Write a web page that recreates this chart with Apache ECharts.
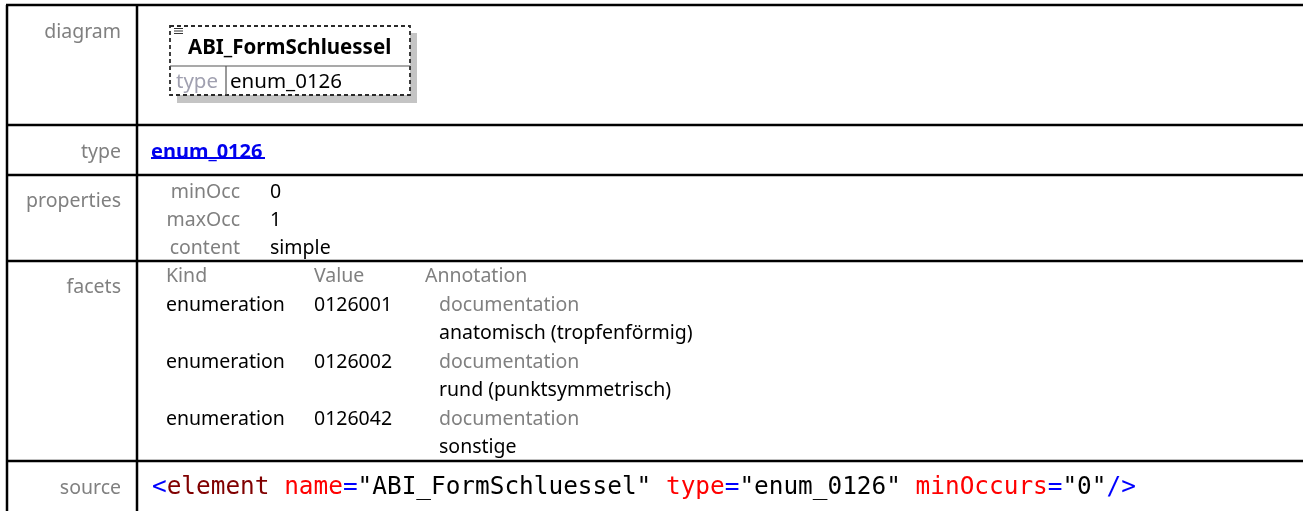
<!DOCTYPE html>
<html><head><meta charset="utf-8">
<script src="https://cdn.jsdelivr.net/npm/echarts@6/dist/echarts.min.js"></script>
<style>html,body{margin:0;padding:0;background:#fff}#c{width:1303px;height:511px}</style>
</head><body><div id="c"></div>
<script>
// ---- data ----
const rowLabels = ['diagram', 'type', 'properties', 'facets', 'source'];
const elementName = 'ABI_FormSchluessel';
const typeName = 'enum_0126';
const propNames = ['minOcc', 'maxOcc', 'content'];
const propValues = ['0', '1', 'simple'];
const facetHeaders = ['Kind', 'Value', 'Annotation'];
const facetKinds = ['enumeration', 'enumeration', 'enumeration'];
const facetValues = ['0126001', '0126002', '0126042'];
const facetDocs = ['anatomisch (tropfenförmig)', 'rund (punktsymmetrisch)', 'sonstige'];
const sourceTokens = [
  ['<', 'b'], ['element', 'e'], [' name', 'a'], ['=', 'b'], ['"' + elementName + '"', 'v'],
  [' type', 'a'], ['=', 'b'], ['"' + typeName + '"', 'v'], [' minOccurs', 'a'], ['=', 'b'],
  ['"0"', 'v'], ['/>', 'b']
];

// ---- layout ----
const FONT = '"Noto Sans", "Open Sans", sans-serif';
const FS = '19.5px ';
const GRAY = '#808080';
const lineY = [5, 125, 175, 261, 461];
const labelY = [32, 152, 201, 287, 488];
const colX = 137, leftX = 7, W = 1303;
const g = [];
function txt(x, y, s, opt) {
  g.push({
    type: 'text', x: x, y: y,
    style: Object.assign({ text: s, font: FS + FONT, fill: '#000', textVerticalAlign: 'middle' }, opt || {})
  });
}
function line(x1, y1, x2, y2, w, c, dash) {
  g.push({ type: 'line', shape: { x1: x1, y1: y1, x2: x2, y2: y2 },
    style: { stroke: c || '#000', lineWidth: w || 2, lineDash: dash || null } });
}
// table lines
lineY.forEach(function (y) { line(leftX - 1, y, W, y, 2.5); });
line(leftX, lineY[0], leftX, 511, 2.5);
line(colX, lineY[0], colX, 511, 2.5);
// row labels
rowLabels.forEach(function (s, i) { txt(121, labelY[i], s, { fill: GRAY, textAlign: 'right' }); });

// diagram box
g.push({ type: 'rect', shape: { x: 177, y: 33, width: 240, height: 70 }, style: { fill: '#c4c4c4' } });
g.push({ type: 'rect', shape: { x: 170, y: 26, width: 240, height: 69 }, style: { fill: '#fff', stroke: '#2a2a2a', lineWidth: 1.8, lineDash: [4, 3] } });
line(170, 66, 410, 66, 1.2, '#555');
line(226, 66, 226, 95, 1.2, '#555');
for (let k = 0; k < 3; k++) line(174, 28.5 + k * 2.5, 183, 28.5 + k * 2.5, 1, '#333');
txt(188, 48, elementName, { font: 'bold 20.5px ' + FONT, fill: '#000' });
txt(176, 82, 'type', { font: '20.5px ' + FONT, fill: '#a0a0b0' });
txt(230, 82, typeName, { font: '20.5px ' + FONT, fill: '#000' });

// type row
txt(151, 152, typeName, { font: 'bold 20px ' + FONT, fill: '#0000ee' });
line(151, 158, 265, 158, 1.8, '#0000ee');

// properties
propNames.forEach(function (s, i) {
  txt(240, 192 + i * 28, s, { fill: GRAY, textAlign: 'right' });
  txt(270, 192 + i * 28, propValues[i]);
});

// facets
const fx = [166, 314, 425];
facetHeaders.forEach(function (s, i) { txt(fx[i], 276, s, { fill: GRAY }); });
facetKinds.forEach(function (k, i) {
  const y = 305 + i * 57;
  txt(166, y, k);
  txt(314, y, facetValues[i]);
  txt(439, y, 'documentation', { fill: GRAY });
  txt(439, y + 28.5, facetDocs[i]);
});

// source
g.push({ type: 'text', x: 152, y: 488, style: {
  text: sourceTokens.map(function (t) { return '{' + t[1] + '|' + t[0] + '}'; }).join(''),
  textVerticalAlign: 'middle',
  rich: {
    b: { fill: '#0000ff', font: '24.4px "DejaVu Sans Mono", monospace' },
    e: { fill: '#800000', font: '24.4px "DejaVu Sans Mono", monospace' },
    a: { fill: '#ff0000', font: '24.4px "DejaVu Sans Mono", monospace' },
    v: { fill: '#000000', font: '24.4px "DejaVu Sans Mono", monospace' }
  }
}});

const chart = echarts.init(document.getElementById('c'), null, { renderer: 'canvas' });
chart.setOption({ backgroundColor: '#fff', animation: false, graphic: { elements: g } });
</script></body></html>
